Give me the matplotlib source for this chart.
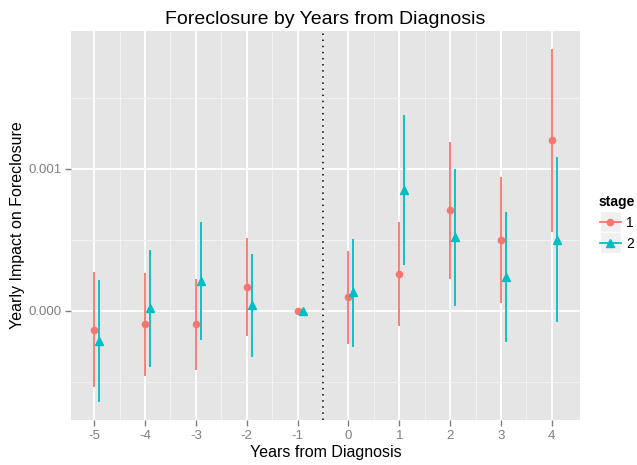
import matplotlib
matplotlib.use("Agg")
import matplotlib.pyplot as plt
from matplotlib.lines import Line2D
from matplotlib.patches import Rectangle
from matplotlib.legend_handler import HandlerLine2D

plt.rcParams['font.family'] = ['Liberation Sans', 'DejaVu Sans']

years = [-5, -4, -3, -2, -1, 0, 1, 2, 3, 4]

# stage 1 estimates and interval ends
s1_est = [-0.000134, -0.000096, -0.000096, 0.000167, 0.0, 0.000096, 0.000256, 0.000709, 0.000498, 0.0012]
s1_lo = [-0.00054, -0.000462, -0.00042, -0.00018, 0.0, -0.000232, -0.00011, 0.000223, 0.000052, 0.000556]
s1_hi = [0.00027, 0.000265, 0.000225, 0.000512, 0.0, 0.000423, 0.000622, 0.001188, 0.00094, 0.00184]

# stage 2
s2_est = [-0.000211, 0.000019, 0.000211, 0.000038, 0.0, 0.000129, 0.000852, 0.000521, 0.000239, 0.0005]
s2_lo = [-0.000646, -0.0004, -0.000209, -0.000329, 0.0, -0.000256, 0.000319, 0.000035, -0.000223, -0.000082]
s2_hi = [0.000213, 0.000427, 0.000622, 0.0004, 0.0, 0.000505, 0.001375, 0.000998, 0.000692, 0.00108]

xticks = [-5, -4, -3, -2, -1, 0, 1, 2, 3, 4]
yticks = [0.0, 0.001]
ytick_labels = ["0.000", "0.001"]

RED = "#F8766D"
CYAN = "#00BFC4"
dodge = 0.1


class KeyHandler(HandlerLine2D):
    # ggplot-style legend key with grey box behind the line
    def create_artists(self, legend, orig_handle, xdescent, ydescent,
                       width, height, fontsize, trans):
        pad = 4
        bg = Rectangle((-xdescent, -ydescent - pad), width, height + 2 * pad,
                       facecolor="#F0F0F0", edgecolor="white", lw=1.0,
                       transform=trans)
        arts = super().create_artists(legend, orig_handle, xdescent, ydescent,
                                      width, height, fontsize, trans)
        return [bg] + arts


fig = plt.figure(figsize=(6.37, 4.65), dpi=100)
ax = fig.add_axes([71 / 637, 45 / 465, 509 / 637, 389 / 465])
ax.set_facecolor("#E5E5E5")

# grid
for x in xticks:
    ax.axvline(x, color="white", lw=1.3, zorder=1)
for x in [v + 0.5 for v in xticks[:-1]]:
    ax.axvline(x, color="#F2F2F2", lw=0.7, zorder=1)
for y in yticks:
    ax.axhline(y, color="white", lw=1.3, zorder=1)
for y in [-0.0005, 0.0005, 0.0015]:
    ax.axhline(y, color="#F2F2F2", lw=0.7, zorder=1)

ax.axvline(-0.5, color="black", lw=1.1, ls=(0, (1, 3)), zorder=2)

x2 = [x + dodge for x in years]
ax.vlines(years, s1_lo, s1_hi, color=RED, lw=1.3, zorder=3)
ax.plot(years, s1_est, "o", color=RED, ms=4.5, zorder=4)
ax.vlines(x2, s2_lo, s2_hi, color=CYAN, lw=1.3, zorder=3)
ax.plot(x2, s2_est, "^", color=CYAN, ms=5.5, zorder=4)

ax.set_xlim(-5.455, 4.555)
ax.set_ylim(-0.00077, 0.00197)
ax.set_xticks(xticks)
ax.set_xticklabels([str(x) for x in xticks])
ax.set_yticks(yticks)
ax.set_yticklabels(ytick_labels)
ax.tick_params(colors="#7F7F7F", labelcolor="#7F7F7F", labelsize=9.5, length=4, width=1, pad=3)
for s in ax.spines.values():
    s.set_visible(False)

ax.set_title("Foreclosure by Years from Diagnosis", fontsize=14, pad=5)
ax.set_xlabel("Years from Diagnosis", fontsize=11.5, labelpad=2)
ax.set_ylabel("Yearly Impact on Foreclosure", fontsize=11.5, labelpad=2)

h1 = Line2D([], [], color=RED, marker="o", ms=4.5, lw=1.3)
h2 = Line2D([], [], color=CYAN, marker="^", ms=5.5, lw=1.3)
leg = fig.legend([h1, h2], ["1", "2"], title="stage",
                 loc="upper left", bbox_to_anchor=(589 / 637, 1 - 185 / 465),
                 frameon=False, fontsize=10, handlelength=1.5,
                 handletextpad=0.4, labelspacing=0.5, borderpad=0.2,
                 handler_map={Line2D: KeyHandler()})
leg.get_title().set_fontweight("bold")
leg.get_title().set_fontsize(10)

fig.savefig("out.png", dpi=100)
